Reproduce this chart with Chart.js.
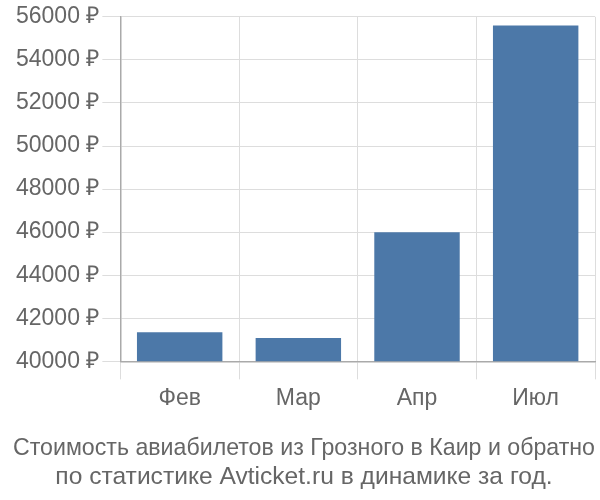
<!DOCTYPE html>
<html><head><meta charset="utf-8">
<script src="https://cdn.jsdelivr.net/npm/chart.js@4"></script>
<style>html,body{margin:0;padding:0;background:#fff}#w{width:600px;height:500px}</style>
</head><body><div id="w"><canvas id="c"></canvas></div>
<script>
const categories = ["Фев", "Мар", "Апр", "Июл"];
const prices = [41350, 41080, 46000, 55600];
const titleLines = ["Стоимость авиабилетов из Грозного в Каир и обратно", "по статистике Avticket.ru в динамике за год."];

new Chart(document.getElementById('c'), {
  type: 'bar',
  data: { labels: categories, datasets: [{ data: prices, backgroundColor: '#4c78a8' }] },
  options: {
    responsive: true, maintainAspectRatio: false, animation: false,
    layout: { padding: { top: 2, right: 5, left: 13, bottom: 0 } },
    plugins: {
      legend: { display: false },
      tooltip: { enabled: false },
      title: { display: true, position: 'bottom', text: titleLines, color: '#666',
        font: { family: 'Liberation Sans', size: 24.6, weight: 'normal' }, padding: { top: 16, bottom: 8 }, lineHeight: 1.1 }
    },
    scales: {
      x: {
        grid: { color: '#dddddd', tickLength: 18, offset: true },
        border: { color: '#aaa', width: 1.5 },
        ticks: { color: '#666', font: { family: 'Liberation Sans', size: 23 }, padding: 5 }
      },
      y: {
        min: 40000, max: 56000,
        grid: { color: '#dddddd', tickLength: 18 },
        border: { color: '#aaa', width: 1.5 },
        ticks: { stepSize: 2000, color: '#666', font: { family: 'Liberation Sans', size: 23 }, padding: 3,
          callback: v => v + ' ₽' }
      }
    }
  }
});
</script></body></html>
